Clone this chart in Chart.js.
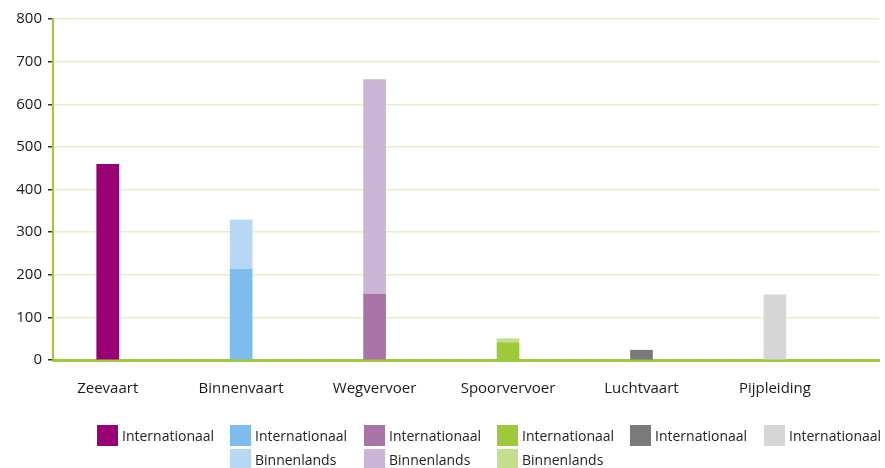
<!DOCTYPE html>
<html lang="nl">
<head>
<meta charset="utf-8">
<title>Vervoer naar vervoerwijze</title>
<script src="https://cdn.jsdelivr.net/npm/chart.js@4.4.1/dist/chart.umd.min.js"></script>
<style>
  html, body { margin: 0; padding: 0; background: #fff; }
  #wrap { width: 885px; height: 468px; position: relative; }
</style>
</head>
<body>
<div id="wrap"><canvas id="vervoerChart"></canvas></div>
<script>
// ===== Gegevens =====
const categorieen   = ['Zeevaart', 'Binnenvaart', 'Wegvervoer', 'Spoorvervoer', 'Luchtvaart', 'Pijpleiding'];
const internationaal = [459, 213, 154, 40, 23, 153];
const binnenlands    = [null, 116, 504, 10, null, null];
const yTicks         = [0, 100, 200, 300, 400, 500, 600, 700, 800];

// kleuren per vervoerwijze (donker = internationaal, licht = binnenlands)
const kleurInt  = ['#990073', '#7dbcec', '#a873a6', '#9dc93b', '#7a7a7a', '#d6d6d6'];
const kleurBinn = ['#990073', '#b6d8f5', '#c9b6d6', '#c5de8c', '#7a7a7a', '#d6d6d6'];

const FONT = '"Open Sans", "DejaVu Sans", sans-serif';
const GROEN = '#9dc93b';

function punten(arr) {
  return arr.map((v, i) => ({ x: i, y: v }));
}

// legenda in kolommen onder elke staaf
const kolomLegenda = {
  id: 'kolomLegenda',
  afterDraw(chart) {
    const ctx = chart.ctx;
    const xs = chart.scales.x;
    ctx.save();
    ctx.font = '14px ' + FONT;
    ctx.textBaseline = 'middle';
    ctx.textAlign = 'left';
    categorieen.forEach((c, i) => {
      const x0 = Math.round(xs.getPixelForValue(i)) - 11;
      const rijen = [['Internationaal', kleurInt[i]]];
      if (binnenlands[i] != null) rijen.push(['Binnenlands', kleurBinn[i]]);
      rijen.forEach((r, j) => {
        const y0 = 425 + j * 24;
        ctx.fillStyle = r[1];
        ctx.fillRect(x0, y0, 21, 21);
        ctx.fillStyle = '#222';
        ctx.fillText(r[0], x0 + 25, y0 + 12);
      });
    });
    ctx.restore();
  }
};

const chart = new Chart(document.getElementById('vervoerChart'), {
  type: 'bar',
  data: {
    datasets: [
      { label: 'Internationaal', data: punten(internationaal), backgroundColor: kleurInt, barThickness: 22 },
      { label: 'Binnenlands',    data: punten(binnenlands),    backgroundColor: kleurBinn, barThickness: 22 }
    ]
  },
  options: {
    responsive: true,
    maintainAspectRatio: false,
    animation: false,
    layout: { padding: { top: 19, right: 6, bottom: 67, left: 0 } },
    plugins: {
      legend: { display: false },
      tooltip: { enabled: false }
    },
    scales: {
      x: {
        type: 'linear',
        stacked: true,
        offset: false,
        min: -0.41,
        max: 5.78,
        afterBuildTicks: (s) => { s.ticks = categorieen.map((_, i) => ({ value: i })); },
        afterFit: (s) => { s.height = 41; },
        grid: { display: false, drawTicks: false, offset: false },
        border: { color: GROEN, width: 3 },
        ticks: {
          padding: 20,
          maxRotation: 0,
          autoSkip: false,
          color: '#1a1a1a',
          font: { family: FONT, size: 15 },
          callback: (v) => categorieen[v]
        }
      },
      y: {
        stacked: true,
        min: 0,
        max: 800,
        afterBuildTicks: (s) => { s.ticks = yTicks.map(v => ({ value: v })); },
        afterFit: (s) => { s.width = 53; },
        grid: { color: '#e6eecb', lineWidth: 1.5, tickColor: '#333', tickLength: 5 },
        border: { color: GROEN, width: 2 },
        ticks: {
          padding: 6,
          color: '#1a1a1a',
          font: { family: FONT, size: 15 }
        }
      }
    }
  },
  plugins: [kolomLegenda]
});
</script>
</body>
</html>
